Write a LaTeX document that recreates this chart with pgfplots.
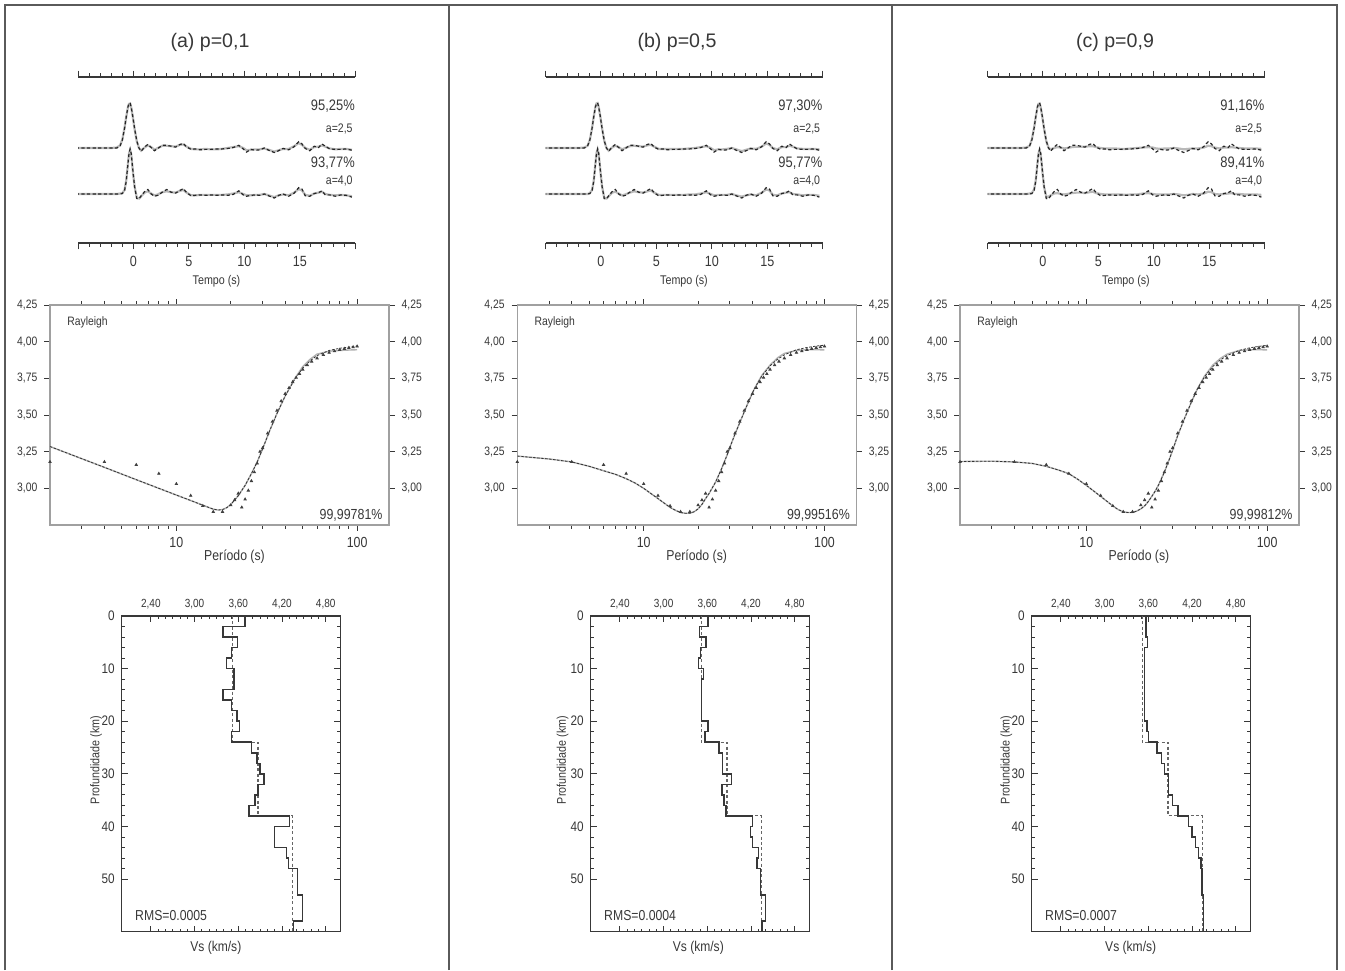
\documentclass[border=0pt]{standalone}
\usepackage{pgfplots}
\pgfplotsset{compat=1.18}
\usepackage{pgfplotstable}
\usepackage{fontspec}
\setmainfont{Liberation Sans}[FakeStretch=0.85]
\newfontfamily\titlefont{Liberation Sans}
\definecolor{ink}{HTML}{383838}
\definecolor{lgray}{HTML}{A0A0A0}
\definecolor{fr}{HTML}{5A5A5A}
\newcommand{\fs}[1]{\fontsize{#1pt}{#1pt}\selectfont}

\pgfplotstableread{
t o1 o2 a1 a2 b1 b2 c1 c2
-5.2 0 0 0 0 0 0 0 0
-4 0 0 0 0 0 0 0 0
-3 0 0 0 0 0 0 0 0
-2 0 0 0 0 0 0 0 0
-1.5 0 0 0.01 0 0.01 0 0.01 0
-1.2 0.05 0 0.06 0.01 0.05 0 0.05 0.01
-1.0 0.18 0.01 0.19 0.02 0.18 0.02 0.19 0.02
-0.8 0.44 0.08 0.45 0.09 0.44 0.09 0.45 0.1
-0.65 0.69 0.28 0.69 0.30 0.70 0.29 0.69 0.3
-0.5 0.91 0.66 0.90 0.66 0.91 0.67 0.9 0.67
-0.4 0.99 0.9 0.98 0.9 0.99 0.91 0.98 0.9
-0.3 1.0 1.0 0.99 0.98 1.0 0.99 0.99 0.98
-0.2 0.91 0.9 0.9 0.88 0.91 0.89 0.9 0.88
-0.05 0.69 0.52 0.68 0.5 0.69 0.51 0.68 0.5
0.1 0.44 0.17 0.43 0.17 0.44 0.17 0.43 0.16
0.3 0.16 -0.1 0.15 -0.08 0.16 -0.09 0.15 -0.06
0.5 0.0 -0.11 0.0 -0.1 0.0 -0.1 0.01 -0.06
0.7 -0.07 -0.04 -0.06 -0.05 -0.06 -0.05 -0.03 -0.03
1.0 0.02 0.05 0.01 0.03 0.01 0.03 0.0 0.01
1.3 0.08 0.1 0.06 0.06 0.05 0.05 0.02 0.02
1.6 0.01 0.0 0.02 0.01 0.02 0.01 0.01 0.0
1.9 -0.06 -0.05 -0.04 -0.03 -0.03 -0.03 -0.01 -0.01
2.2 -0.01 -0.03 0.0 -0.01 0.0 -0.01 0.0 0.0
2.6 0.06 0.04 0.05 0.04 0.04 0.03 0.02 0.02
3.0 0.06 0.1 0.05 0.06 0.05 0.06 0.03 0.03
3.4 0.04 0.04 0.04 0.04 0.04 0.04 0.03 0.03
3.8 0.02 0.02 0.03 0.03 0.03 0.03 0.03 0.02
4.2 0.08 0.08 0.07 0.07 0.06 0.06 0.04 0.04
4.5 0.1 0.12 0.08 0.09 0.07 0.08 0.04 0.05
4.8 0.02 0.03 0.03 0.03 0.03 0.03 0.02 0.02
5.2 -0.03 -0.04 -0.02 -0.03 -0.02 -0.02 0.0 0.0
5.6 -0.02 -0.03 -0.03 -0.03 -0.02 -0.02 -0.01 -0.01
6.0 -0.04 -0.02 -0.03 -0.02 -0.02 -0.02 -0.01 -0.01
6.5 -0.03 -0.03 -0.02 -0.02 -0.02 -0.02 -0.01 -0.01
7.0 -0.03 -0.02 -0.03 -0.02 -0.02 -0.02 -0.02 -0.01
7.5 -0.02 -0.03 -0.03 -0.02 -0.02 -0.02 -0.02 -0.02
8.0 -0.02 -0.02 -0.02 -0.02 -0.01 -0.01 -0.01 -0.01
8.5 -0.01 -0.03 0.0 -0.01 0.0 -0.01 0.0 -0.01
9.0 0.01 -0.01 0.02 0.01 0.02 0.01 0.01 0.01
9.5 0.06 0.07 0.04 0.04 0.04 0.04 0.02 0.02
9.9 -0.02 -0.02 0.0 0.0 0.0 0.0 0.01 0.0
10.2 -0.09 -0.05 -0.05 -0.03 -0.05 -0.03 -0.01 -0.01
10.6 -0.03 -0.03 -0.04 -0.03 -0.03 -0.02 -0.02 -0.01
11.0 -0.05 -0.02 -0.03 -0.02 -0.03 -0.02 -0.01 -0.01
11.4 -0.04 -0.03 -0.03 -0.02 -0.02 -0.02 -0.01 -0.01
11.8 0.0 0.0 -0.01 0.0 0.0 0.0 0.0 0.0
12.2 -0.05 -0.04 -0.04 -0.03 -0.03 -0.03 -0.01 -0.01
12.7 -0.1 -0.09 -0.08 -0.07 -0.07 -0.06 -0.03 -0.03
13.1 -0.06 -0.03 -0.05 -0.03 -0.04 -0.03 -0.02 -0.02
13.5 -0.01 0.0 -0.02 -0.01 -0.01 -0.01 -0.01 0.0
14.0 -0.04 -0.05 -0.02 -0.03 -0.02 -0.03 -0.01 -0.01
14.5 0.03 0.02 0.04 0.03 0.03 0.03 0.01 0.01
14.9 0.14 0.14 0.11 0.11 0.1 0.1 0.05 0.05
15.2 0.09 0.11 0.07 0.08 0.07 0.08 0.04 0.04
15.5 -0.01 -0.04 0.0 -0.02 0.0 -0.02 0.01 0.0
15.9 -0.06 -0.05 -0.04 -0.04 -0.03 -0.03 -0.01 -0.01
16.3 0.04 0.01 0.02 0.01 0.02 0.01 0.01 0.0
16.7 0.01 0.03 0.03 0.03 0.02 0.03 0.01 0.01
17.0 0.09 0.07 0.06 0.05 0.05 0.04 0.02 0.02
17.3 0.04 -0.02 0.03 0.0 0.03 0.0 0.01 0.0
17.7 -0.02 -0.02 -0.01 -0.02 -0.01 -0.01 0.0 0.0
18.2 -0.03 -0.05 -0.03 -0.03 -0.02 -0.03 -0.01 -0.01
18.7 -0.03 -0.02 -0.02 -0.02 -0.02 -0.02 -0.01 -0.01
19.2 -0.02 -0.03 -0.02 -0.03 -0.02 -0.02 -0.01 -0.01
19.7 -0.05 -0.07 -0.04 -0.05 -0.03 -0.04 -0.02 -0.02
}\wavetab

\pgfplotstableread{
p v
2 3.18
4 3.18
6 3.16
8 3.10
10 3.03
12 2.95
14 2.88
16 2.84
18 2.84
20 2.885
21 2.92
22 2.965
23 2.87
24 2.925
25 2.985
26 3.05
27 3.11
28 3.17
29 3.25
30 3.275
32 3.375
34 3.455
36 3.53
38 3.595
40 3.645
42 3.685
44 3.725
46 3.755
48 3.78
50 3.81
53 3.84
56 3.865
60 3.887
65 3.91
70 3.925
75 3.935
80 3.945
85 3.952
90 3.958
95 3.963
100 3.968
}\dispobs

\pgfplotstableread{
p v g
2 3.285 3.285
4 3.143 3.143
6 3.059 3.059
8 3.0 3.0
10 2.954 2.954
12 2.917 2.917
14 2.885 2.885
16 2.858 2.858
17 2.852 2.852
18 2.855 2.855
19 2.868 2.868
20 2.89 2.89
22 2.95 2.95
24 3.02 3.02
26 3.10 3.10
28 3.18 3.18
30 3.27 3.27
33 3.40 3.40
36 3.51 3.51
40 3.63 3.63
45 3.74 3.745
50 3.82 3.83
55 3.87 3.88
60 3.905 3.915
70 3.94 3.935
80 3.955 3.94
90 3.963 3.943
100 3.97 3.945
}\curvea

\pgfplotstableread{
p v g
2 3.22 3.22
3 3.20 3.20
4 3.18 3.18
5 3.15 3.15
6 3.12 3.12
7 3.095 3.095
8 3.066 3.066
9 3.035 3.035
10 3.00 3.00
12 2.93 2.93
14 2.87 2.87
15 2.85 2.85
16 2.835 2.835
17 2.83 2.83
18 2.83 2.83
19 2.84 2.84
20 2.86 2.86
21 2.89 2.89
22 2.93 2.93
23 2.965 2.965
25 3.043 3.043
27 3.135 3.135
29 3.23 3.23
30 3.28 3.28
32 3.37 3.37
35 3.485 3.485
38 3.59 3.59
41 3.68 3.68
45 3.765 3.77
50 3.835 3.84
55 3.88 3.89
60 3.91 3.92
70 3.945 3.94
80 3.96 3.945
90 3.97 3.945
100 3.976 3.944
}\curveb

\pgfplotstableread{
p v g
2 3.183 3.183
3 3.185 3.185
4 3.18 3.18
5 3.17 3.17
6 3.15 3.15
7 3.125 3.125
8 3.10 3.10
9 3.06 3.06
10 3.02 3.02
12 2.945 2.945
14 2.88 2.88
15 2.855 2.855
16 2.84 2.84
17 2.835 2.835
18 2.835 2.835
19 2.845 2.845
20 2.86 2.86
21 2.88 2.88
22 2.91 2.91
23 2.945 2.945
24 2.98 2.98
25 3.02 3.02
27 3.11 3.11
29 3.21 3.21
30 3.26 3.26
32 3.36 3.36
35 3.48 3.48
38 3.585 3.585
41 3.675 3.675
45 3.76 3.765
50 3.83 3.84
55 3.875 3.885
60 3.905 3.915
70 3.94 3.94
80 3.958 3.945
90 3.968 3.945
100 3.975 3.944
}\curvec

\pgfplotstableread{
v d
3.515 0
3.515 24
3.87 24
3.87 38
4.34 38
4.34 60
}\truemod

\pgfplotstableread{
v d
3.69 0
3.69 2
3.39 2
3.39 4
3.59 4
3.59 6
3.51 6
3.51 8
3.44 8
3.44 10
3.54 10
3.54 14
3.39 14
3.39 16
3.51 16
3.51 18
3.58 18
3.58 20
3.62 20
3.62 22
3.51 22
3.51 24
3.78 24
3.78 26
3.86 26
3.86 28
3.90 28
3.90 30
3.955 30
3.955 32
3.87 32
3.87 34
3.83 34
3.83 36
3.75 36
3.75 38
4.30 38
4.30 40
4.10 40
4.10 44
4.26 44
4.26 46
4.29 46
4.29 48
4.41 48
4.41 53
4.48 53
4.48 58
4.36 58
4.36 60
}\profa

\pgfplotstableread{
v d
3.61 0
3.61 2
3.49 2
3.49 4
3.58 4
3.58 6
3.51 6
3.51 8
3.48 8
3.48 10
3.55 10
3.55 12
3.52 12
3.52 20
3.61 20
3.61 22
3.57 22
3.57 24
3.76 24
3.76 26
3.81 26
3.81 30
3.93 30
3.93 32
3.805 32
3.805 34
3.83 34
3.83 36
3.86 36
3.86 38
4.22 38
4.22 40
4.19 40
4.19 42
4.22 42
4.22 44
4.30 44
4.30 46
4.28 46
4.28 48
4.33 48
4.33 53
4.40 53
4.40 58
4.35 58
4.35 60
}\profb

\pgfplotstableread{
v d
3.57 0
3.57 4
3.59 4
3.59 6
3.55 6
3.55 20
3.58 20
3.58 22
3.60 22
3.60 24
3.72 24
3.72 26
3.78 26
3.78 28
3.82 28
3.82 30
3.88 30
3.88 34
3.93 34
3.93 36
4.01 36
4.01 38
4.15 38
4.15 40
4.20 40
4.20 42
4.25 42
4.25 44
4.29 44
4.29 46
4.32 46
4.32 48
4.34 48
4.34 53
4.355 53
4.355 60
}\profc

\pgfplotsset{
  /pgf/number format/assume math mode=true,
  syn/.style={gray!55, line width=1.1pt},
  obs/.style={black!85, line width=0.6pt, dash pattern=on 1.6pt off 1.2pt},
  wavestyle/.style={scale only axis, width=138.6pt, height=83pt, anchor=south west,
    xmin=-5, xmax=20, ymin=-1.089, ymax=2.6,
    axis x line=box, axis y line=none, ytick=\empty,
    xtick={-5,0,5,10,15,20}, xticklabels={,0,5,10,15,}, minor x tick num=4,
    xtick pos=both, tick align=outside, major tick length=3.2pt, minor tick length=1.8pt,
    axis line style={ink, line width=0.55pt}, tick style={ink, line width=0.45pt},
    tick label style={font=\fs{7.4}, text=ink}},
  dispstyle/.style={scale only axis, width=169.5pt, height=110pt, anchor=south west,
    xmin=2, xmax=150, ymin=2.75, ymax=4.25,
    xtick={10,100}, xticklabels={10,100},
    minor xtick={3,4,5,6,7,8,9,20,30,40,50,60,70,80,90},
    xtick pos=both, ytick={3,3.25,3.5,3.75,4,4.25}, ytick pos=left,
    tick align=outside, major tick length=2.8pt, minor tick length=2pt,
    axis line style={lgray, line width=0.6pt}, tick style={ink, line width=0.45pt},
    xticklabel style={font=\fs{7.3}, text=ink},
    yticklabel style={font=\fs{6.1}, text=ink, /pgf/number format/.cd, fixed, fixed zerofill, precision=2, use comma}},
  disprstyle/.style={scale only axis, width=169.5pt, height=110pt, anchor=south west,
    xmin=2, xmax=150, ymin=2.75, ymax=4.25,
    hide x axis, axis y line*=right, ytick={3,3.25,3.5,3.75,4,4.25},
    tick align=outside, major tick length=2.8pt,
    axis line style={lgray, line width=0.6pt}, tick style={ink, line width=0.45pt},
    yticklabel style={font=\fs{6.1}, text=ink, /pgf/number format/.cd, fixed, fixed zerofill, precision=2, use comma}},
  profstyle/.style={scale only axis, width=109.3pt, height=157.9pt, anchor=south west,
    xmin=2, xmax=5, ymin=0, ymax=60, y dir=reverse,
    xtick={2.4,3,3.6,4.2,4.8}, minor x tick num=5,
    ytick={0,10,20,30,40,50}, minor y tick num=4,
    xtick pos=both, xticklabel pos=upper, ytick pos=both, yticklabel pos=left,
    tick align=inside, major tick length=3pt, minor tick length=1.6pt,
    axis line style={ink, line width=0.6pt}, tick style={ink, line width=0.45pt},
    xticklabel style={font=\fs{5.9}, text=ink, /pgf/number format/.cd, fixed, fixed zerofill, precision=2, use comma},
    yticklabel style={font=\fs{6.9}, text=ink}},
}

\newcommand{\wave}[5]{%
\begin{axis}[wavestyle, at={(#1pt,363.5pt)}]
\addplot[syn] table[x=t, y expr=\thisrow{#2}+1.022] {\wavetab};
\addplot[obs] table[x=t, y expr=\thisrow{o1}+1.022] {\wavetab};
\addplot[syn] table[x=t, y=#3] {\wavetab};
\addplot[obs] table[x=t, y=o2] {\wavetab};
\node[anchor=base east, font=\fs{7.6}, text=ink, inner sep=0pt] at (rel axis cs:1,0.801) {#4};
\node[anchor=base east, font=\fs{6.2}, text=ink, inner sep=0pt] at (rel axis cs:0.992,0.665) {a=2,5};
\node[anchor=base east, font=\fs{7.6}, text=ink, inner sep=0pt] at (rel axis cs:1,0.456) {#5};
\node[anchor=base east, font=\fs{6.2}, text=ink, inner sep=0pt] at (rel axis cs:0.992,0.355) {a=4,0};
\end{axis}}

\newcommand{\disp}[3]{%
\begin{semilogxaxis}[dispstyle, at={(#1pt,222.5pt)}]
\addplot[gray!60, line width=0.7pt] table[x=p, y=g] {#2};
\addplot[black!80, line width=0.4pt, dash pattern=on 1.2pt off 0.8pt] table[x=p, y=v] {#2};
\addplot[only marks, mark=triangle*, mark size=0.65pt, black!75] table[x=p, y=v] {\dispobs};
\node[anchor=base west, font=\fs{6.1}, text=ink, inner sep=0pt] at (rel axis cs:0.05,0.909) {Rayleigh};
\node[anchor=base east, font=\fs{7.3}, text=ink, inner sep=0pt] at (rel axis cs:0.982,0.027) {#3};
\end{semilogxaxis}
\begin{semilogxaxis}[disprstyle, at={(#1pt,222.5pt)}]
\addplot[draw=none] coordinates {(10,3)};
\end{semilogxaxis}}

\newcommand{\prof}[3]{%
\begin{axis}[profstyle, at={(#1pt,19.15pt)}]
\addplot[black!60, line width=0.55pt, dash pattern=on 1.5pt off 1.2pt] table[x=v, y=d] {\truemod};
\addplot[ink, line width=0.75pt] table[x=v, y=d] {#2};
\node[anchor=base west, font=\fs{7.2}, text=ink, inner sep=0pt] at (axis cs:2.18,57.8) {#3};
\end{axis}}

\begin{document}
\begin{tikzpicture}
\useasboundingbox (0pt,0pt) rectangle (672.5pt,485pt);
\fill[white] (0pt,0pt) rectangle (672.5pt,485pt);
\draw[fr, line width=1pt] (2.5pt,0pt) -- (2.5pt,482.5pt) -- (668.5pt,482.5pt) -- (668.5pt,0pt);
\draw[fr, line width=1.2pt] (224.5pt,0pt) -- (224.5pt,482.5pt);
\draw[fr, line width=1pt] (446pt,0pt) -- (446pt,482.5pt);

% titles
\node[font=\titlefont\fs{9.8}, text=ink] at (105pt,464pt) {(a) p=0,1};
\node[font=\titlefont\fs{9.8}, text=ink] at (338.5pt,464pt) {(b) p=0,5};
\node[font=\titlefont\fs{9.8}, text=ink] at (557.5pt,464pt) {(c) p=0,9};

% waveforms
\wave{39}{a1}{a2}{95,25\%}{93,77\%}
\wave{272.75}{b1}{b2}{97,30\%}{95,77\%}
\wave{493.75}{c1}{c2}{91,16\%}{89,41\%}
\node[font=\fs{6.3}, text=ink] at (108.25pt,344.5pt) {Tempo (s)};
\node[font=\fs{6.3}, text=ink] at (342pt,344.5pt) {Tempo (s)};
\node[font=\fs{6.3}, text=ink] at (563pt,344.5pt) {Tempo (s)};

% dispersion
\disp{25}{\curvea}{99,99781\%}
\disp{258.65}{\curveb}{99,99516\%}
\disp{480}{\curvec}{99,99812\%}
\node[font=\fs{7.2}, text=ink] at (117.25pt,206.7pt) {Período (s)};
\node[font=\fs{7.2}, text=ink] at (348.35pt,206.7pt) {Período (s)};
\node[font=\fs{7.2}, text=ink] at (569.5pt,206.7pt) {Período (s)};

% profiles
\prof{60.85}{\profa}{RMS=0.0005}
\prof{295.35}{\profb}{RMS=0.0004}
\prof{515.85}{\profc}{RMS=0.0007}
\node[font=\fs{6.3}, text=ink, rotate=90] at (48pt,105pt) {Profundidade (km)};
\node[font=\fs{6.3}, text=ink, rotate=90] at (281.25pt,105pt) {Profundidade (km)};
\node[font=\fs{6.3}, text=ink, rotate=90] at (503.15pt,105pt) {Profundidade (km)};
\node[font=\fs{7.1}, text=ink] at (107.9pt,11pt) {Vs (km/s)};
\node[font=\fs{7.1}, text=ink] at (349.15pt,11pt) {Vs (km/s)};
\node[font=\fs{7.1}, text=ink] at (565.35pt,11pt) {Vs (km/s)};
\end{tikzpicture}
\end{document}
